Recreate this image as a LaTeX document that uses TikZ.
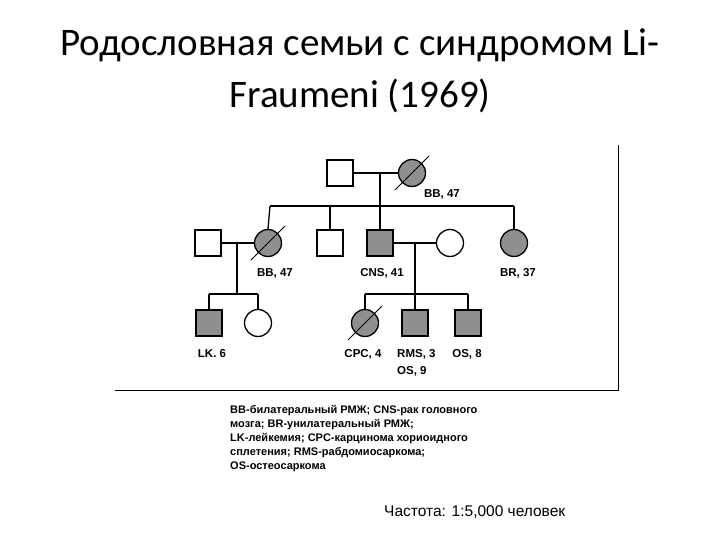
\documentclass[tikz,border=0pt]{standalone}
\usepackage{fontspec}
\setmainfont{Liberation Sans}
\newfontfamily\titlefont{Carlito}
\begin{document}
\begin{tikzpicture}[x=1pt,y=-1pt,
  ln/.style={line width=1.3pt},
  m/.style={draw,line width=1.3pt,minimum size=26pt,inner sep=0pt},
  f/.style={draw,circle,line width=1.3pt,minimum size=27pt,inner sep=0pt},
  aff/.style={fill=gray!75!black!70},
  lab/.style={font=\bfseries\fontsize{11.5}{12}\selectfont,inner sep=0pt,text height=8.5pt,text depth=2pt}]
\useasboundingbox (0,0) rectangle (720,540);
\node[font=\titlefont\fontsize{39}{52}\selectfont,align=center] (title) at (360,71) {Родословная семьи с синдромом Li-\\Fraumeni (1969)};
% frame
\draw[line width=0.8pt] (618,145) -- (618,390) -- (115,390);
% gen1
\node[m] (g1m) at (340,173) {};
\node[f,aff] (g1f) at (412,173) {};
\draw[ln] (g1m.east) -- (g1f.west);
\coordinate (d1) at (380,173);
\coordinate (s1) at (380,206);
\draw[ln] (d1) -- (s1);
\coordinate (sl) at (270,206); \coordinate (sr) at (514,206);
\draw[ln] (sl) -- (sr);
% gen2
\node[m] (h2) at (208,243) {};
\node[f,aff] (bb) at (268,243) {};
\node[m] (p2) at (330,243) {};
\node[m,aff] (cns) at (380,243) {};
\node[f] (w2) at (450,243) {};
\node[f,aff] (br) at (514,243) {};
\draw[ln] (sl) -- (bb.north);
\draw[ln] (330,206) -- (p2.north);
\draw[ln] (s1) -- (cns.north);
\draw[ln] (sr) -- (br.north);
\draw[ln] (h2.east) -- (bb.west);
\draw[ln] (cns.east) -- (w2.west);
\coordinate (d2) at (237,243); \coordinate (s2) at (237,294);
\draw[ln] (d2) -- (s2);
\coordinate (d3) at (415,243); \coordinate (s3) at (415,294);
\draw[ln] (d3) -- (s3);
\draw[ln] (209,294) -- (258,294);
\draw[ln] (365,294) -- (468,294);
% gen3
\node[m,aff] (lk) at (209,323) {};
\node[f] (lkf) at (258,323) {};
\node[f,aff] (cpc) at (365,323) {};
\node[m,aff] (rms) at (415,323) {};
\node[m,aff] (os) at (468,323) {};
\draw[ln] (209,294) -- (lk.north);
\draw[ln] (258,294) -- (lkf.north);
\draw[ln] (365,294) -- (cpc.north);
\draw[ln] (s3) -- (rms.north);
\draw[ln] (468,294) -- (os.north);
% slashes
\foreach \n in {g1f,bb,cpc}{
  \draw[line width=1pt] ([shift={(-17,17)}]\n.center) -- ([shift={(17,-17)}]\n.center);
}
% labels
\node[lab] (l1) at (442,194) {BB, 47};
\node[lab] (l2) at (275,273) {BB, 47};
\node[lab] (l3) at (382,273) {CNS, 41};
\node[lab] (l4) at (518,273) {BR, 37};
\node[lab] (l5) at (212,354) {LK. 6};
\node[lab] (l6) at (363,354) {CPC, 4};
\node[lab,anchor=west] (l7) at (397,354) {RMS, 3};
\node[lab,anchor=west] (l9) at (397,371) {OS, 9};
\node[lab] (l8) at (467,354) {OS, 8};
% legend
\node[anchor=north west,align=left,inner sep=0pt,font=\bfseries\fontsize{11}{14}\selectfont] (leg) at (230,405) {BB-билатеральный РМЖ; CNS-рак головного\\мозга; BR-унилатеральный РМЖ;\\LK-лейкемия; CPC-карцинома хориоидного\\сплетения; RMS-рабдомиосаркома;\\OS-остеосаркома};
\node[anchor=west,inner sep=0pt,font=\fontsize{15.5}{16}\selectfont] (freq) at (384,512) {Частота: 1:5,000 человек};
\end{tikzpicture}
\end{document}
